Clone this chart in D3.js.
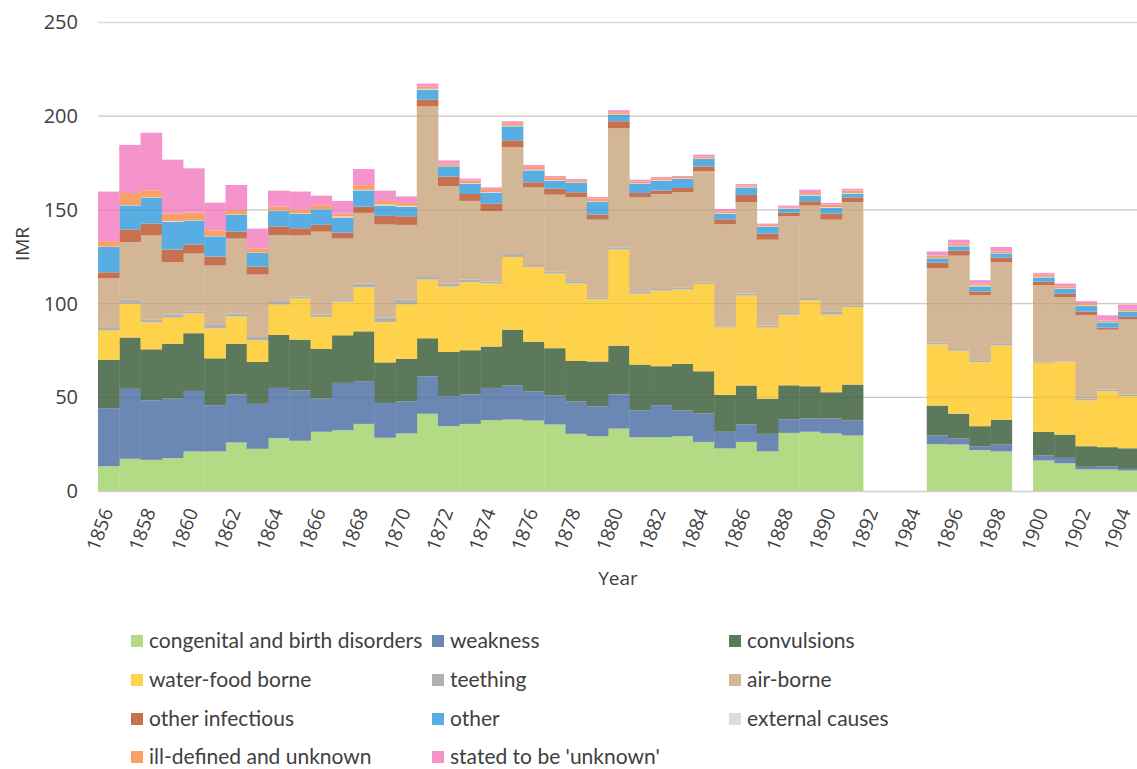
<!DOCTYPE html>
<html>
<head>
<meta charset="utf-8">
<script src="https://cdn.jsdelivr.net/npm/d3@7"></script>
<style>
  html, body { margin: 0; padding: 0; background: #fff; }
  svg { display: block; }
</style>
</head>
<body>
<svg id="chart" width="1137" height="769"></svg>
<script>
// Years on the category axis (no records for 1892-1894 and 1899)
const years = [
  1856, 1857, 1858, 1859, 1860, 1861, 1862, 1863, 1864, 1865,
  1866, 1867, 1868, 1869, 1870, 1871, 1872, 1873, 1874, 1875,
  1876, 1877, 1878, 1879, 1880, 1881, 1882, 1883, 1884, 1885,
  1886, 1887, 1888, 1889, 1890, 1891, 1892, 1893, 1894, 1895,
  1896, 1897, 1898, 1899, 1900, 1901, 1902, 1903, 1904
];

// Labels shown on every second category
const tickLabels = [
  "1856", "1858", "1860", "1862", "1864", "1866", "1868", "1870", "1872",
  "1874", "1876", "1878", "1880", "1882", "1884", "1886", "1888", "1890",
  "1892", "1984", "1896", "1898", "1900", "1902", "1904"
];

// Infant mortality by cause of death, per 1000 births
const congenital = [
  13.2, 17.2, 16.6, 17.5, 21.1, 21.1, 25.9, 22.5, 28.2, 26.8,
  31.6, 32.4, 35.8, 28.4, 30.7, 41.2, 34.6, 35.8, 37.8, 38.1,
  37.6, 35.5, 30.5, 29.2, 33.3, 28.7, 28.7, 29.2, 26.2, 22.7,
  26.2, 21.1, 31.0, 31.6, 30.7, 29.6, null, null, null, 25.0,
  24.8, 21.8, 21.1, null, 16.3, 14.8, 11.5, 11.5, 10.9
];
const weakness = [
  31.0, 37.3, 31.8, 31.8, 32.3, 24.7, 25.6, 24.0, 26.8, 26.8,
  17.9, 25.3, 22.8, 18.6, 17.2, 20.0, 16.0, 15.7, 17.2, 18.3,
  15.6, 15.4, 17.2, 16.0, 18.2, 14.4, 17.1, 13.7, 15.1, 8.9,
  9.3, 9.4, 7.3, 7.1, 8.0, 8.0, null, null, null, 4.6,
  3.2, 2.1, 3.7, null, 2.6, 2.9, 1.4, 1.7, 0.9
];
const convulsions = [
  25.9, 27.4, 27.2, 29.2, 30.8, 25.0, 27.0, 22.4, 28.3, 27.2,
  26.3, 25.4, 26.6, 21.6, 22.6, 20.3, 23.6, 23.6, 22.1, 29.7,
  26.4, 25.3, 21.7, 23.9, 26.1, 24.4, 20.8, 24.9, 22.6, 19.7,
  20.8, 18.7, 18.1, 17.2, 14.0, 19.2, null, null, null, 16.0,
  13.3, 10.7, 13.3, null, 12.7, 12.4, 11.0, 10.2, 11.0
];
const waterFood = [
  15.5, 18.1, 14.4, 14.0, 10.5, 16.0, 14.6, 11.5, 16.2, 21.9,
  17.1, 18.0, 23.5, 21.6, 29.1, 31.3, 34.9, 36.3, 33.6, 38.8,
  40.0, 39.8, 41.3, 33.2, 51.2, 37.8, 40.3, 39.7, 46.6, 35.9,
  48.0, 38.0, 37.7, 45.9, 41.4, 41.4, null, null, null, 32.6,
  33.6, 34.1, 39.5, null, 36.8, 38.8, 24.4, 29.8, 27.8
];
const teething = [
  1.4, 2.0, 1.6, 1.6, 0.9, 2.2, 1.6, 1.8, 1.9, 1.0,
  1.2, 1.2, 2.0, 2.4, 2.5, 1.4, 1.6, 1.4, 1.0, 1.6,
  1.0, 1.2, 1.2, 0.9, 1.2, 1.1, 0.9, 0.9, 0.7, 0.7,
  1.0, 1.1, 1.3, 1.2, 1.5, 0.9, null, null, null, 1.0,
  0.9, 1.1, 0.9, null, 0.8, 0.3, 0.9, 0.9, 0.9
];
const airBorne = [
  26.5, 30.8, 44.8, 27.9, 31.1, 31.3, 40.0, 33.3, 35.2, 32.7,
  44.3, 32.4, 37.7, 49.6, 39.9, 91.0, 52.0, 42.0, 37.7, 56.9,
  41.4, 40.9, 44.8, 41.6, 63.5, 50.3, 50.7, 51.0, 59.4, 54.4,
  48.9, 45.8, 51.2, 49.3, 49.2, 55.1, null, null, null, 39.8,
  49.8, 34.6, 43.5, null, 40.6, 34.2, 44.6, 32.0, 40.0
];
const otherInfectious = [
  3.2, 6.8, 6.3, 6.8, 4.9, 4.8, 3.7, 4.2, 4.6, 3.8,
  3.7, 3.2, 3.3, 4.6, 4.6, 3.6, 5.1, 3.7, 3.9, 3.7,
  2.7, 3.2, 2.7, 2.7, 3.8, 2.3, 1.9, 2.3, 2.6, 2.7,
  3.8, 3.2, 1.9, 2.3, 3.2, 2.5, null, null, null, 2.9,
  2.7, 2.0, 2.5, null, 1.9, 1.9, 1.9, 1.1, 1.4
];
const other = [
  13.5, 12.8, 13.8, 14.8, 12.7, 10.8, 9.1, 7.3, 8.2, 7.8,
  8.2, 8.0, 8.7, 5.5, 5.0, 5.3, 5.5, 5.5, 5.9, 7.5,
  6.4, 4.3, 5.0, 6.7, 3.4, 5.0, 5.1, 4.8, 4.1, 3.0,
  4.0, 3.6, 2.0, 3.0, 3.0, 2.0, null, null, null, 2.3,
  2.3, 2.8, 2.3, null, 2.3, 2.5, 3.0, 2.8, 2.8
];
const externalCauses = [
  0.2, 0.2, 0.2, 0.5, 0.2, 0.2, 0.2, 0.2, 0.2, 0.2,
  0.2, 0.6, 0.3, 0.6, 0.6, 0.5, 0.3, 0.3, 0.3, 0.3,
  0.3, 0.3, 0.3, 0.3, 0.3, 0.2, 0.3, 0.3, 0.2, 0.3,
  0.3, 0.3, 0.3, 0.4, 0.5, 0.3, null, null, null, 0.2,
  0.3, 0.5, 0.2, null, 0.3, 0.3, 0.3, 0.2, 0.2
];
const illDefined = [
  2.9, 6.4, 3.8, 3.9, 4.1, 3.0, 2.3, 2.3, 2.2, 2.1,
  2.0, 1.5, 2.5, 1.9, 1.5, 1.2, 1.2, 1.3, 1.6, 1.4,
  1.5, 1.5, 1.1, 1.5, 1.1, 1.0, 1.1, 0.8, 1.1, 1.0,
  0.8, 0.8, 0.6, 1.0, 1.3, 1.4, null, null, null, 1.2,
  1.1, 1.0, 0.9, null, 1.1, 1.1, 1.2, 0.7, 0.9
];
const statedUnknown = [
  26.5, 25.7, 30.7, 28.8, 23.6, 14.8, 13.3, 10.5, 8.5, 9.5,
  5.1, 6.8, 8.6, 5.5, 3.5, 1.6, 1.6, 1.1, 0.9, 1.0,
  1.1, 0.7, 0.7, 0.9, 1.1, 0.9, 0.7, 0.5, 0.9, 1.2,
  0.7, 0.7, 0.9, 1.8, 0.9, 0.9, null, null, null, 2.2,
  2.1, 1.8, 2.3, null, 1.0, 1.5, 1.1, 2.9, 2.7
];

const seriesNames = [
  "congenital and birth disorders", "weakness", "convulsions",
  "water-food borne", "teething", "air-borne",
  "other infectious", "other", "external causes",
  "ill-defined and unknown", "stated to be 'unknown'"
];
const seriesValues = [
  congenital, weakness, convulsions, waterFood, teething, airBorne,
  otherInfectious, other, externalCauses, illDefined, statedUnknown
];
const seriesColors = [
  "#b3db85", "#6b88b5", "#5c7a5b", "#ffd24b", "#b1b1b1", "#d2b696",
  "#c6714f", "#58aee2", "#dddddd", "#f9a165", "#f594cb"
];

// Build one row per year for the stack layout
const rows = years.map((yr, i) => {
  const r = { year: yr };
  seriesNames.forEach((n, k) => { r[n] = seriesValues[k][i]; });
  return r;
});

const svg = d3.select("#chart");
const margin = { left: 98, top: 22.5, bottom: 491 };
const bandW = 21.25;

const x = d3.scaleBand()
  .domain(years)
  .range([margin.left, margin.left + bandW * years.length])
  .paddingInner(0).paddingOuter(0);

const y = d3.scaleLinear().domain([0, 250]).range([margin.bottom, margin.top]);

const stack = d3.stack()
  .keys(seriesNames)
  .value((d, key) => d[key] == null ? 0 : d[key]);
const layers = stack(rows);

// Background gridlines
const yTicks = [0, 50, 100, 150, 200, 250];
svg.append("g").selectAll("line")
  .data(yTicks.filter(t => t > 0))
  .join("line")
  .attr("x1", margin.left).attr("x2", 1137)
  .attr("y1", d => y(d)).attr("y2", d => y(d))
  .attr("stroke", "#d9d9d9").attr("stroke-width", 1.3);

// Stacked columns
const gLayers = svg.append("g");
layers.forEach((layer, k) => {
  gLayers.append("g")
    .attr("fill", seriesColors[k])
    .selectAll("rect")
    .data(layer.filter(d => d[1] - d[0] > 0))
    .join("rect")
    .attr("x", d => x(d.data.year))
    .attr("width", x.bandwidth() + 0.4)
    .attr("y", d => y(d[1]))
    .attr("height", d => y(d[0]) - y(d[1]));
});

// Gridlines faintly visible across the columns
svg.append("g").selectAll("line")
  .data(yTicks.filter(t => t > 0 && t < 250))
  .join("line")
  .attr("x1", margin.left).attr("x2", 1137)
  .attr("y1", d => y(d)).attr("y2", d => y(d))
  .attr("stroke", "#000").attr("stroke-opacity", 0.07).attr("stroke-width", 1.3);

// Category axis baseline
svg.append("line")
  .attr("x1", margin.left).attr("x2", 1137)
  .attr("y1", y(0) + 0.5).attr("y2", y(0) + 0.5)
  .attr("stroke", "#d0d0d0").attr("stroke-width", 1.5);

// Value axis
const yAxis = d3.axisLeft(y).tickValues(yTicks).tickSize(0).tickPadding(20);
svg.append("g")
  .attr("transform", `translate(${margin.left},0)`)
  .call(yAxis)
  .call(g => g.select(".domain").remove())
  .selectAll("text")
  .attr("font-family", "'Open Sans', sans-serif")
  .attr("font-size", 20)
  .attr("fill", "#404040");

// Category axis with rotated labels on every second year;
// the last label is nudged left so it stays inside the page
const labelled = years.filter((d, i) => i % 2 === 0);
const xAxis = d3.axisBottom(x)
  .tickValues(labelled)
  .tickSize(0)
  .tickFormat((d) => tickLabels[labelled.indexOf(d)]);
svg.append("g")
  .attr("transform", `translate(0,${y(0)})`)
  .call(xAxis)
  .call(g => g.select(".domain").remove())
  .selectAll("text")
  .attr("font-family", "'Open Sans', sans-serif")
  .attr("font-size", 19)
  .attr("fill", "#404040")
  .attr("text-anchor", "end")
  .attr("dy", "0.35em")
  .attr("y", 0)
  .attr("transform", (d, i, nodes) =>
    `translate(${i === nodes.length - 1 ? -4 : -1.5},18) rotate(-70)`);

// Axis titles
svg.append("text")
  .attr("x", 618).attr("y", 585)
  .attr("text-anchor", "middle")
  .attr("font-family", "'Open Sans', sans-serif")
  .attr("font-size", 19)
  .attr("fill", "#404040")
  .text("Year");

svg.append("text")
  .attr("transform", "translate(29,244) rotate(-90)")
  .attr("text-anchor", "middle")
  .attr("font-family", "'Open Sans', sans-serif")
  .attr("font-size", 19)
  .attr("fill", "#404040")
  .text("IMR");

// Legend: three columns, filled row by row
const legendCols = [131, 432, 729];
const legendRows = [641, 680, 719, 757];
const legend = svg.append("g")
  .selectAll("g")
  .data(seriesNames)
  .join("g")
  .attr("transform", (d, i) => `translate(${legendCols[i % 3]},${legendRows[Math.floor(i / 3)]})`);
legend.append("rect")
  .attr("x", 0).attr("y", -6)
  .attr("width", 12).attr("height", 12)
  .attr("fill", (d, i) => seriesColors[i]);
legend.append("text")
  .attr("x", 18).attr("y", 0).attr("dy", "0.35em")
  .attr("font-family", "Lato, sans-serif")
  .attr("font-size", 21)
  .attr("fill", "#404040")
  .text(d => d);
</script>
</body>
</html>
